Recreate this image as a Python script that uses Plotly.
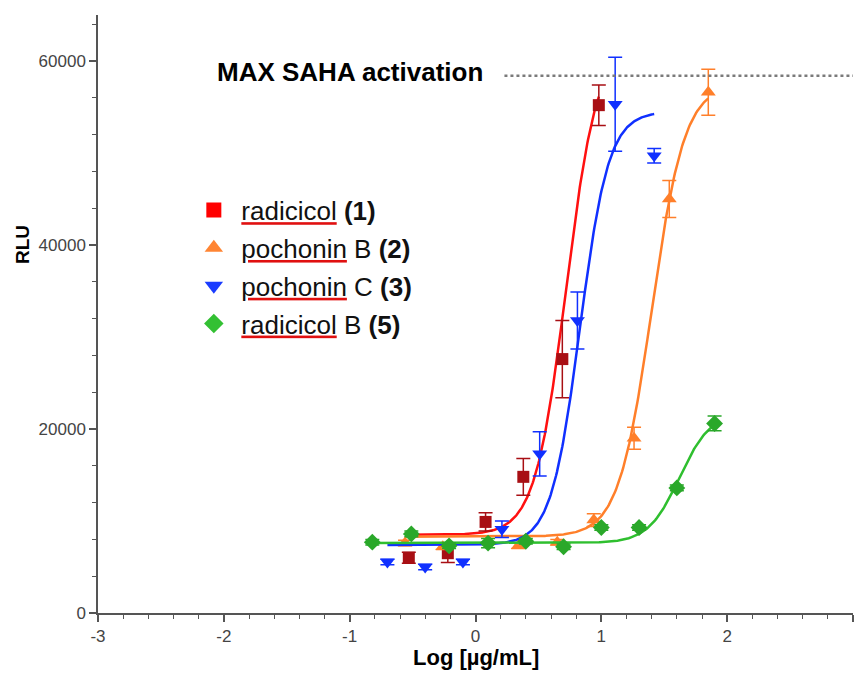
import numpy as np
import plotly.graph_objects as go

# ---- data ----
red_x = [-0.53, -0.22, 0.08, 0.38, 0.69, 0.98]
red_y = [6000, 6500, 9900, 14800, 27600, 55200]
red_err = [600, 1000, 1000, 2000, 4200, 2200]

orange_x = [-0.56, -0.26, 0.34, 0.65, 0.94, 1.26, 1.54, 1.85]
orange_y = [7600, 7200, 7300, 7700, 10100, 19000, 45000, 56600]
orange_err = [300, 300, 300, 300, 700, 1200, 2000, 2500]

blue_x = [-0.70, -0.40, -0.10, 0.21, 0.51, 0.81, 1.11, 1.42]
blue_y = [5550, 5000, 5550, 9100, 17300, 31800, 55300, 49700]
blue_err = [300, 300, 300, 900, 2400, 3100, 5100, 800]

green_x = [-0.82, -0.51, -0.21, 0.10, 0.40, 0.70, 1.00, 1.30, 1.60, 1.90]
green_y = [7700, 8600, 7300, 7600, 7800, 7200, 9300, 9300, 13600, 20600]
green_err = [300, 300, 300, 500, 300, 300, 300, 300, 300, 800]

# 4-parameter logistic fit parameters (bottom, top, logEC50, hill)
red_fit = [8500, 62000, 0.72, 3.5]
orange_fit = [8300, 57500, 1.40, 3.3]
blue_fit = [7400, 54500, 0.83, 3.8]
green_fit = [7600, 21800, 1.62, 3.5]

saha_max = 58400
saha_x = [0.23, 3.0]

x_tickvals = [-3, -2, -1, 0, 1, 2, 3]
x_ticklabels = ["-3", "-2", "-1", "0", "1", "2", "3"]
y_tickvals = [0, 20000, 40000, 60000]
y_ticklabels = ["0", "20000", "40000", "60000"]

UL = ("<span style='fill:#e01010;text-decoration:underline'>"
      "<span style='fill:#111111'>{}</span></span>")
labels = [
    UL.format("radicicol") + " <b>(1)</b>",
    UL.format("pochonin") + " B <b>(2)</b>",
    UL.format("pochonin") + " C <b>(3)</b>",
    UL.format("radicicol") + " B <b>(5)</b>",
]


def logistic(xs, p):
    b, t, ec, h = p
    xs = np.asarray(xs)
    return b + (t - b) / (1 + 10 ** ((ec - xs) * h))


FONT = "Liberation Sans, Arial, sans-serif"
fig = go.Figure()

series = [
    (red_x, red_y, red_err, red_fit, "#ff1010", "#a80f14", "#ff0000", "square", 12, 15),
    (orange_x, orange_y, orange_err, orange_fit, "#ff7f2a", "#ff7f2a", "#ff8533", "triangle-up", 13, 16),
    (blue_x, blue_y, blue_err, blue_fit, "#1030ff", "#1030ff", "#1a3cff", "triangle-down", 13, 16),
    (green_x, green_y, green_err, green_fit, "#2fbf2f", "#2aa82a", "#33c033", "diamond", 13, 15),
]

for i, (xs, ys, es, fit, lc, mc, legc, sym, ms, lms) in enumerate(series):
    xx = np.linspace(min(xs), max(xs), 300)
    fig.add_trace(go.Scatter(x=xx, y=logistic(xx, fit), mode="lines",
                             line=dict(color=lc, width=2.5), showlegend=False,
                             hoverinfo="skip"))
    fig.add_trace(go.Scatter(x=xs, y=ys, mode="markers",
                             marker=dict(symbol=sym, size=ms, color=mc),
                             error_y=dict(type="data", array=es, color=mc,
                                          thickness=1.5, width=7),
                             showlegend=False))
    fig.add_trace(go.Scatter(x=[None], y=[None], mode="markers",
                             marker=dict(symbol=sym, size=lms, color=legc),
                             name=labels[i], legendgroup=str(i)))

fig.add_trace(go.Scatter(x=saha_x, y=[saha_max, saha_max], mode="lines",
                         line=dict(color="#7a7a7a", width=2.5, dash="dot"),
                         showlegend=False, hoverinfo="skip"))

fig.add_annotation(x=-2.07, y=saha_max + 400, xref="x", yref="y",
                   text="<b>MAX SAHA activation</b>", showarrow=False,
                   xanchor="left", yanchor="middle",
                   font=dict(family=FONT, size=26, color="#000000"))

fig.add_annotation(x=0.0, y=0, xref="x", yref="paper", yshift=-30,
                   text="<b>Log [µg/mL]</b>", showarrow=False,
                   xanchor="center", yanchor="top",
                   font=dict(family=FONT, size=22, color="#000000"))

fig.add_annotation(x=0, y=40000, xref="paper", yref="y", xshift=-76,
                   text="<b>RLU</b>", showarrow=False, textangle=-90,
                   xanchor="center", yanchor="middle",
                   font=dict(family=FONT, size=19, color="#000000"))

fig.update_layout(
    width=855, height=691,
    margin=dict(l=98, r=2, t=15, b=78),
    paper_bgcolor="white", plot_bgcolor="white",
    font=dict(family=FONT, color="#444444"),
    showlegend=True,
    legend=dict(x=0.117, y=0.713, xanchor="left", yanchor="top",
                bgcolor="rgba(0,0,0,0)", borderwidth=0,
                font=dict(family=FONT, size=26, color="#111111"),
                tracegroupgap=1, itemsizing="trace", itemwidth=45),
    xaxis=dict(range=[-3, 3], tickvals=x_tickvals, ticktext=x_ticklabels,
               showgrid=False, zeroline=False, automargin=False,
               showline=True, linecolor="#555555", linewidth=1.5,
               ticks="outside", ticklen=7, tickcolor="#555555", tickwidth=1.5,
               tickfont=dict(family=FONT, size=17, color="#444444"),
               minor=dict(dtick=0.2, tick0=-3, ticks="outside", ticklen=4,
                          tickcolor="#555555", tickwidth=1.2)),
    yaxis=dict(range=[0, 65000], tickvals=y_tickvals, ticktext=y_ticklabels,
               showgrid=False, zeroline=False, automargin=False,
               showline=True, linecolor="#555555", linewidth=1.5,
               ticks="outside", ticklen=7, tickcolor="#555555", tickwidth=1.5,
               tickfont=dict(family=FONT, size=17, color="#444444"),
               minor=dict(dtick=4000, tick0=0, ticks="outside", ticklen=4,
                          tickcolor="#555555", tickwidth=1.2)),
)

fig.write_html("out.html", config={"displayModeBar": False},
               post_script="document.body.style.margin='0';document.body.style.overflow='hidden';")
